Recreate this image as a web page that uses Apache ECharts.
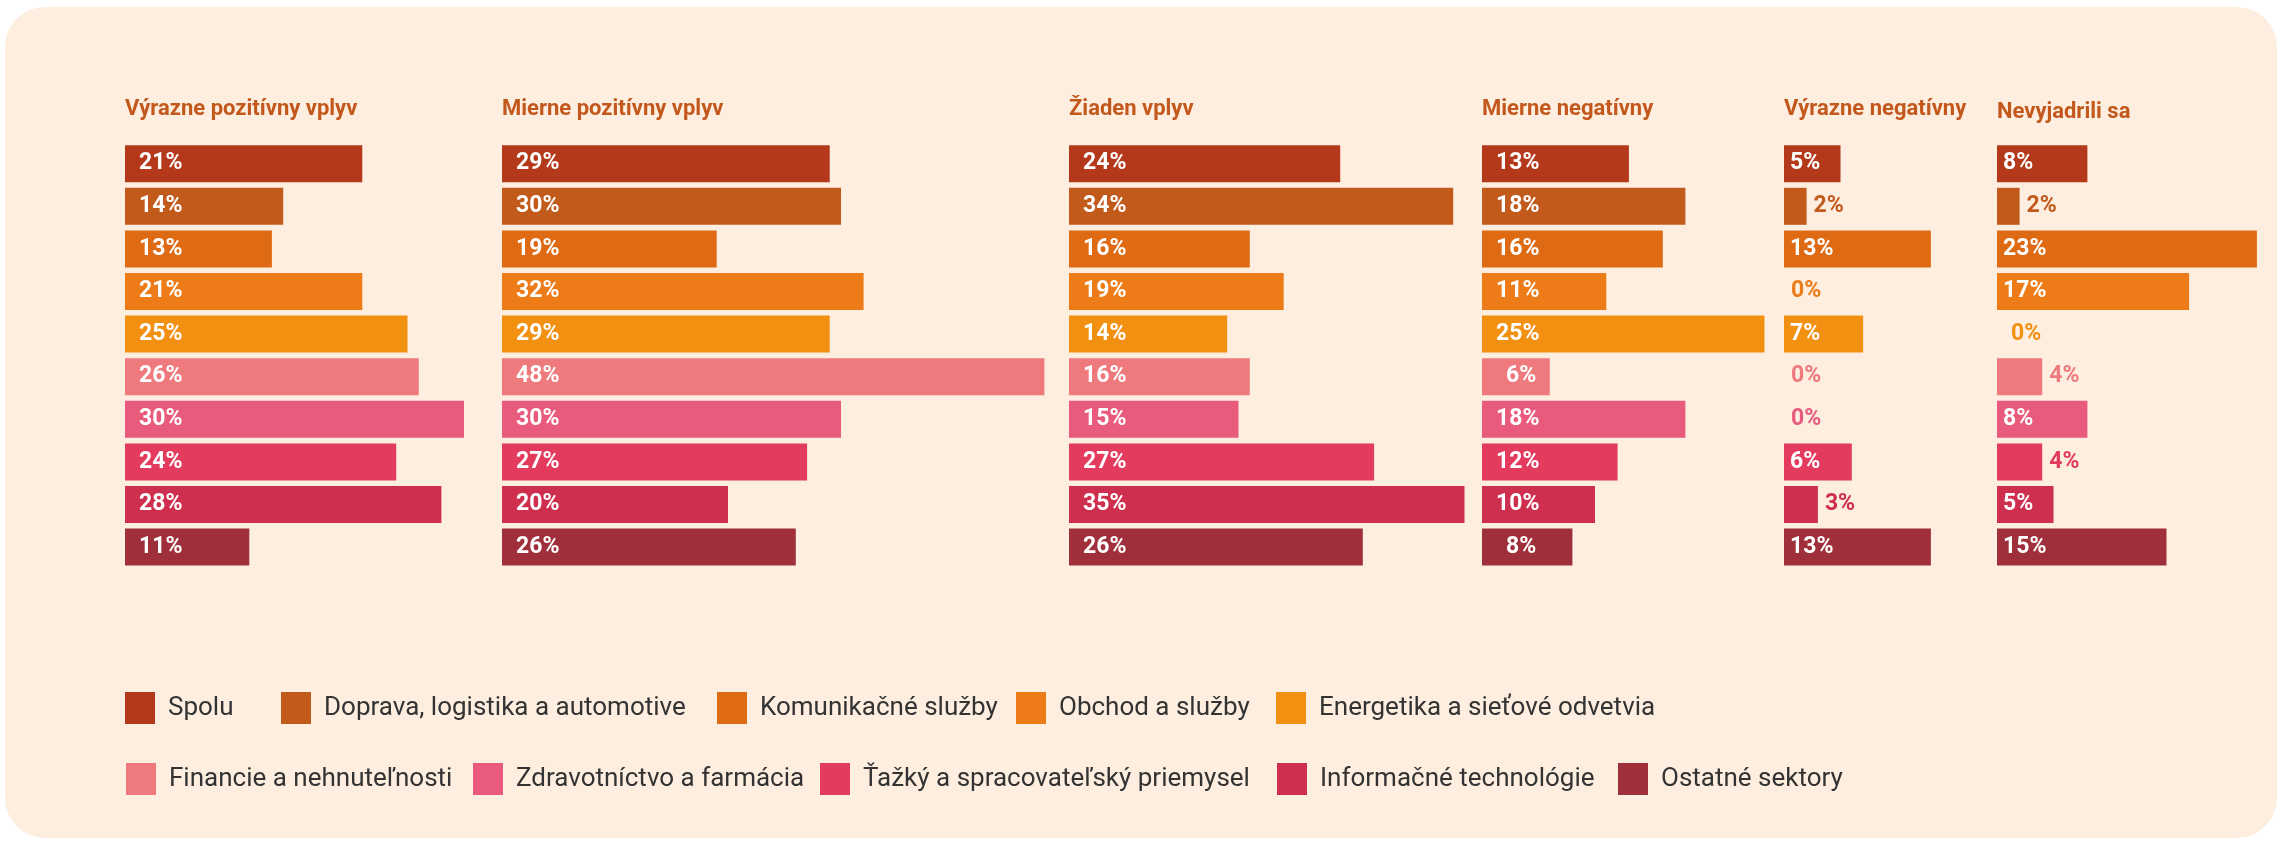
<!DOCTYPE html>
<html>
<head>
<meta charset="utf-8">
<script src="https://cdn.jsdelivr.net/npm/echarts@6/dist/echarts.min.js"></script>
<style>
html, body { margin: 0; padding: 0; background: #fff; }
#main { width: 2282px; height: 844px; }
</style>
</head>
<body>
<div id="main"></div>
<script>
var sektory = ['Spolu', 'Doprava, logistika a automotive', 'Komunikačné služby', 'Obchod a služby', 'Energetika a sieťové odvetvia',
    'Financie a nehnuteľnosti', 'Zdravotníctvo a farmácia', 'Ťažký a spracovateľský priemysel', 'Informačné technológie', 'Ostatné sektory'];
var farby = ['#b4391a', '#c25a1c', '#df6a14', '#ec7b18', '#f29012', '#ef7a7e', '#e95b7c', '#e23b5e', '#cf2f4e', '#9f2f3b'];
var nadpisy = ['Výrazne pozitívny vplyv', 'Mierne pozitívny vplyv', 'Žiaden vplyv', 'Mierne negatívny', 'Výrazne negatívny', 'Nevyjadrili sa'];

var vyraznePozitivny = [21, 14, 13, 21, 25, 26, 30, 24, 28, 11];
var miernePozitivny = [29, 30, 19, 32, 29, 48, 30, 27, 20, 26];
var ziadenVplyv = [24, 34, 16, 19, 14, 16, 15, 27, 35, 26];
var mierneNegativny = [13, 18, 16, 11, 25, 6, 18, 12, 10, 8];
var vyrazneNegativny = [5, 2, 13, 0, 7, 0, 0, 6, 3, 13];
var nevyjadrili = [8, 2, 23, 17, 0, 4, 8, 4, 5, 15];
var hodnoty = [vyraznePozitivny, miernePozitivny, ziadenVplyv, mierneNegativny, vyrazneNegativny, nevyjadrili];

// rozlozenie (px)
var pxNaPercento = 11.3;
var panelX = [125, 502, 1069, 1482, 1784, 1997];
var panelMax = [32, 50, 36, 26, 16, 24];
var legendaX = [125, 281, 717, 1016, 1276, 126, 473, 820, 1277, 1618];
var legendaY = [692, 692, 692, 692, 692, 763, 763, 763, 763, 763];

var PISMO = "Roboto, 'Liberation Sans', sans-serif";

function stitok(p, s) {
    var v = hodnoty[p][s];
    var l = {
        show: true, formatter: '{c}%', position: 'insideLeft', distance: 14,
        fontFamily: PISMO, fontWeight: 'bold', fontSize: 23, color: '#fff'
    };
    if (p >= 4) l.distance = 6;
    if (p === 3 && v < 10) l.offset = [10, 0];
    if (p >= 4 && v < 5) {
        l.position = 'right';
        l.distance = (v === 0 && p === 5) ? 14 : 7;
        l.color = farby[s];
    }
    return l;
}

var myChart = echarts.init(document.getElementById('main'));

var grid = [], xAxis = [], yAxis = [], series = [], title = [], legend = [];
for (var p = 0; p < hodnoty.length; p++) {
    grid.push({ left: panelX[p], top: 142.4, width: panelMax[p] * pxNaPercento, height: 426 });
    xAxis.push({ type: 'value', gridIndex: p, min: 0, max: panelMax[p], show: false });
    yAxis.push({ type: 'category', gridIndex: p, data: sektory, inverse: true, show: false });
    title.push({
        text: nadpisy[p], left: panelX[p], top: p === 5 ? 101 : 98, padding: 0,
        textStyle: { fontFamily: PISMO, fontWeight: 'bold', fontSize: 22, color: '#c3581d' }
    });
    for (var s = 0; s < sektory.length; s++) {
        series.push({
            type: 'bar',
            name: sektory[s],
            xAxisIndex: p,
            yAxisIndex: p,
            stack: 'panel' + p,
            barWidth: 37,
            itemStyle: { color: farby[s] },
            label: stitok(p, s),
            data: sektory.map(function (x, i) { return i === s ? hodnoty[p][s] : '-'; })
        });
    }
}
for (var i = 0; i < sektory.length; i++) {
    legend.push({
        data: [sektory[i]], left: legendaX[i], top: legendaY[i], padding: 0,
        icon: 'rect', itemWidth: 30, itemHeight: 32,
        textStyle: { fontFamily: PISMO, fontSize: 26, color: '#333', padding: [0, 0, 0, 8] }
    });
}

myChart.setOption({
    animation: false,
    graphic: [{
        type: 'rect', z: -10,
        shape: { x: 5, y: 7, width: 2272, height: 831, r: 40 },
        style: { fill: '#fdeee0' }
    }],
    title: title,
    legend: legend,
    grid: grid,
    xAxis: xAxis,
    yAxis: yAxis,
    series: series
});
</script>
</body>
</html>
